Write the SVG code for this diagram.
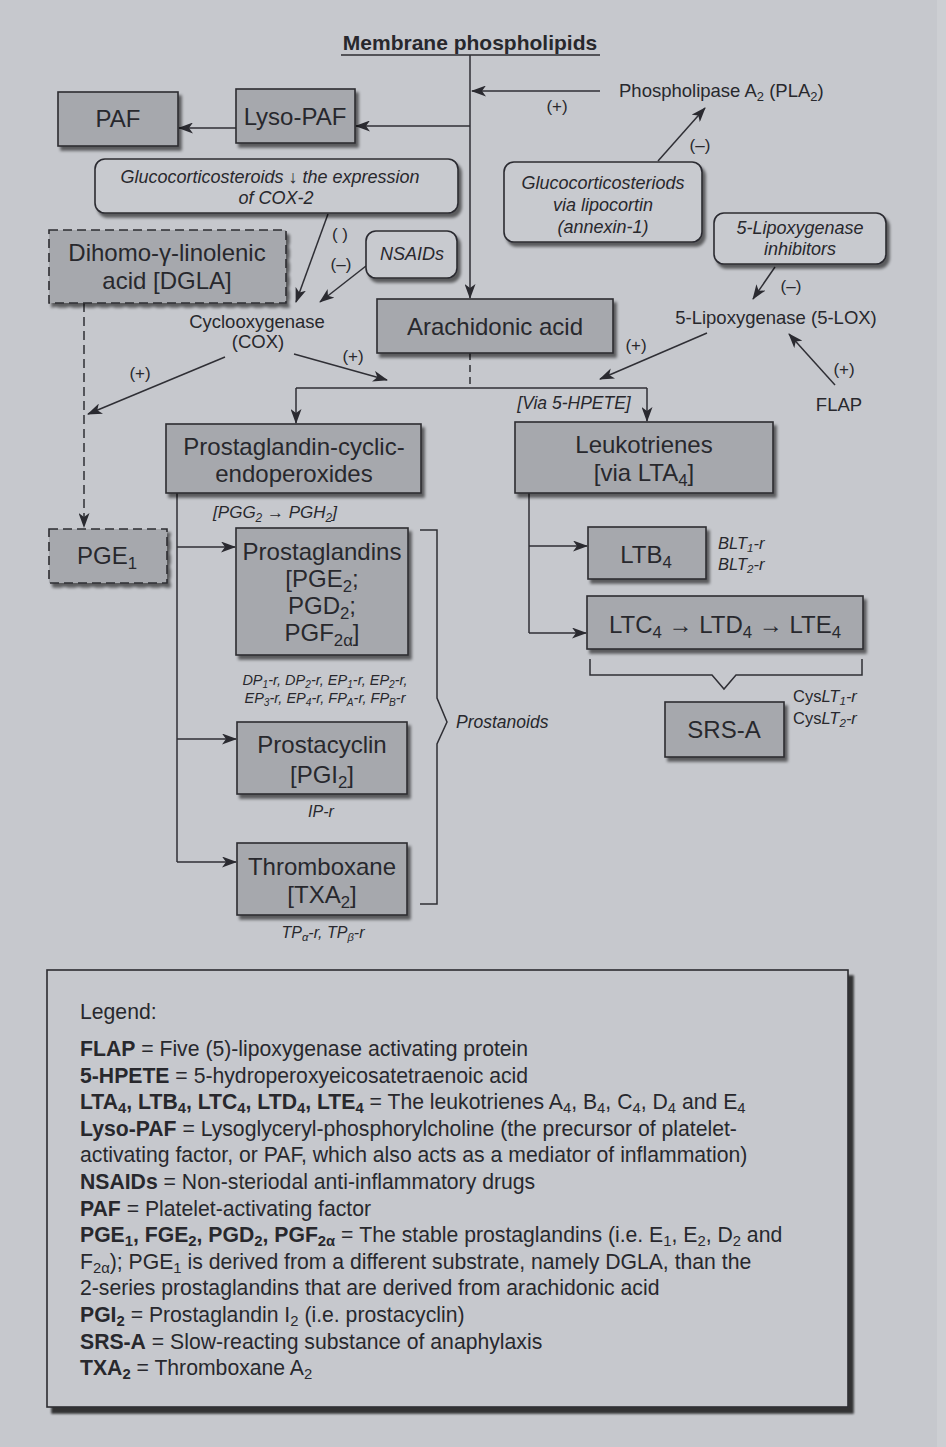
<svg xmlns="http://www.w3.org/2000/svg" width="946" height="1447" viewBox="0 0 946 1447">
<defs>
<style>
text{font-family:"Liberation Sans",Arial,Helvetica,sans-serif;fill:#28282d}
.n{font-size:24px;text-anchor:middle}
.s{font-size:18.5px}
.c{text-anchor:middle}
.i{font-style:italic}
.p{font-size:17px;text-anchor:middle}
.r{font-size:14.5px;font-style:italic;text-anchor:middle}
.rl{font-size:16.5px}
.sub{font-size:70%;baseline-shift:-0.3em}
.b{font-weight:bold}
.box{fill:#a6a8ad;stroke:#2c2c31;stroke-width:1.6}
.rbox{fill:#c8cacf;stroke:#2c2c31;stroke-width:1.6}
.dash{stroke-dasharray:9 5}
.ln{fill:none;stroke:#2f2f35;stroke-width:1.5}
.ar{marker-end:url(#ah)}
.lg{font-size:21.2px}
</style>
<marker id="ah" markerUnits="userSpaceOnUse" markerWidth="15" markerHeight="11" refX="14" refY="5.5" orient="auto">
<path d="M0,0 L15,5.5 L0,11 L4,5.5 Z" fill="#2a2a30"/>
</marker>
<filter id="sh" x="-10%" y="-10%" width="125%" height="135%">
<feGaussianBlur in="SourceAlpha" stdDeviation="1.4"/>
<feOffset dx="3" dy="4" result="o"/>
<feComponentTransfer><feFuncA type="linear" slope="0.55"/></feComponentTransfer>
<feMerge><feMergeNode/><feMergeNode in="SourceGraphic"/></feMerge>
</filter>
<filter id="sh2" x="-5%" y="-5%" width="110%" height="110%">
<feGaussianBlur in="SourceAlpha" stdDeviation="1.2"/>
<feOffset dx="5" dy="6"/>
<feComponentTransfer><feFuncA type="linear" slope="0.75"/></feComponentTransfer>
<feMerge><feMergeNode/><feMergeNode in="SourceGraphic"/></feMerge>
</filter>
</defs>

<!-- page background -->
<rect x="0" y="0" width="946" height="1447" fill="#c6c8cd"/>
<rect x="937" y="0" width="9" height="1447" fill="#cdcfd3"/>

<!-- title -->
<g id="title">
<text x="470" y="50" class="c b" font-size="21">Membrane phospholipids</text>
<line x1="341" y1="55" x2="600" y2="55" stroke="#2c2c31" stroke-width="1.5"/>
</g>

<!-- connectors -->
<g id="connectors">
<path class="ln ar" d="M470,55 V298"/>
<path class="ln ar" d="M600,91 H472"/>
<path class="ln ar" d="M470,126 H356"/>
<path class="ln ar" d="M236,128 H179"/>
<path class="ln ar" d="M328,214 L296,302"/>
<path class="ln ar" d="M366,266 L320,302"/>
<path class="ln ar" d="M658,161 L705,108"/>
<path class="ln ar" d="M775,267 L753,299"/>
<path class="ln ar dash" d="M84,303 V527"/>
<path class="ln ar" d="M225,357 L88,414"/>
<path class="ln ar" d="M294,354 L387,380"/>
<path class="ln ar" d="M707,333 L600,379"/>
<path class="ln ar" d="M835,385 L789,334"/>
<path class="ln" d="M470,353 V388" stroke-dasharray="7 5"/>
<path class="ln" d="M296,388 H647"/>
<path class="ln ar" d="M296,388 V423"/>
<path class="ln ar" d="M647,388 V421"/>
<path class="ln" d="M177,493 V862"/>
<path class="ln ar" d="M177,547 H235"/>
<path class="ln ar" d="M177,739 H236"/>
<path class="ln ar" d="M177,862 H236"/>
<path class="ln" d="M529,493 V633"/>
<path class="ln ar" d="M529,546 H587"/>
<path class="ln ar" d="M529,633 H586"/>
<path class="ln" d="M420,530 H437 V698 L447,722 L437,744 V904 H420"/>
<path class="ln" d="M590,659 V675 H712 L724,689 L736,675 H862 V659"/>
</g>

<!-- edge labels -->
<g id="edge-labels">
<text x="557" y="112" class="p">(+)</text>
<text x="700" y="151" class="p">(–)</text>
<text x="340" y="240" class="p">( )</text>
<text x="341" y="270" class="p">(–)</text>
<text x="791" y="292" class="p">(–)</text>
<text x="140" y="379" class="p">(+)</text>
<text x="353" y="362" class="p">(+)</text>
<text x="636" y="351" class="p">(+)</text>
<text x="844" y="375" class="p">(+)</text>
<text x="574" y="409" class="c i" font-size="17.5">[Via 5-HPETE]</text>
<text x="275" y="518" class="c i" font-size="17">[PGG<tspan class="sub">2</tspan> → PGH<tspan class="sub">2</tspan>]</text>
</g>

<!-- free-standing agents -->
<g id="pla2"><text x="619" y="97" class="s">Phospholipase A<tspan class="sub">2</tspan> (PLA<tspan class="sub">2</tspan>)</text></g>
<g id="cox"><text x="257" y="328" class="s c">Cyclooxygenase</text><text x="258" y="348" class="s c">(COX)</text></g>
<g id="lox"><text x="776" y="324" class="s c">5-Lipoxygenase (5-LOX)</text></g>
<g id="flap"><text x="839" y="411" class="s c">FLAP</text></g>

<!-- nodes -->
<g id="paf">
<rect x="58" y="92" width="120" height="54" class="box" filter="url(#sh)"/>
<text x="118" y="127" class="n">PAF</text>
</g>
<g id="lyso-paf">
<rect x="236" y="89" width="119" height="54" class="box" filter="url(#sh)"/>
<text x="295" y="125" class="n">Lyso-PAF</text>
</g>
<g id="gluco-cox2">
<rect x="95" y="159" width="363" height="54" rx="10" class="rbox" filter="url(#sh)"/>
<text x="270" y="183" class="c i" font-size="18">Glucocorticosteroids ↓ the expression</text>
<text x="276" y="204" class="c i" font-size="18">of COX-2</text>
</g>
<g id="nsaids">
<rect x="366" y="231" width="91" height="47" rx="10" class="rbox" filter="url(#sh)"/>
<text x="412" y="260" class="c i" font-size="18">NSAIDs</text>
</g>
<g id="dgla">
<rect x="49" y="230" width="237" height="73" class="box dash" filter="url(#sh)"/>
<text x="167" y="261" class="n">Dihomo-γ-linolenic</text>
<text x="167" y="289" class="n">acid [DGLA]</text>
</g>
<g id="gluco-lipocortin">
<rect x="504" y="162" width="198" height="80" rx="10" class="rbox" filter="url(#sh)"/>
<text x="603" y="189" class="c i" font-size="18">Glucocorticosteriods</text>
<text x="603" y="211" class="c i" font-size="18">via lipocortin</text>
<text x="603" y="233" class="c i" font-size="18">(annexin-1)</text>
</g>
<g id="lox-inhibitors">
<rect x="714" y="213" width="172" height="51" rx="10" class="rbox" filter="url(#sh)"/>
<text x="800" y="234" class="c i" font-size="18">5-Lipoxygenase</text>
<text x="800" y="255" class="c i" font-size="18">inhibitors</text>
</g>
<g id="arachidonic">
<rect x="377" y="299" width="236" height="54" class="box" filter="url(#sh)"/>
<text x="495" y="335" class="n">Arachidonic acid</text>
</g>
<g id="endoperoxides">
<rect x="166" y="424" width="255" height="69" class="box" filter="url(#sh)"/>
<text x="294" y="455" class="n">Prostaglandin-cyclic-</text>
<text x="294" y="482" class="n">endoperoxides</text>
</g>
<g id="leukotrienes">
<rect x="515" y="422" width="258" height="71" class="box" filter="url(#sh)"/>
<text x="644" y="453" class="n">Leukotrienes</text>
<text x="644" y="481" class="n">[via LTA<tspan class="sub">4</tspan>]</text>
</g>
<g id="pge1">
<rect x="49" y="529" width="118" height="54" class="box dash" filter="url(#sh)"/>
<text x="107" y="564" class="n">PGE<tspan class="sub">1</tspan></text>
</g>
<g id="prostaglandins">
<rect x="236" y="528" width="172" height="127" class="box" filter="url(#sh)"/>
<text x="322" y="560" class="n">Prostaglandins</text>
<text x="322" y="587" class="n">[PGE<tspan class="sub">2</tspan>;</text>
<text x="322" y="614" class="n">PGD<tspan class="sub">2</tspan>;</text>
<text x="322" y="641" class="n">PGF<tspan class="sub">2α</tspan>]</text>
<text x="325" y="685" class="r">DP<tspan class="sub">1</tspan>-r, DP<tspan class="sub">2</tspan>-r, EP<tspan class="sub">1</tspan>-r, EP<tspan class="sub">2</tspan>-r,</text>
<text x="325" y="703" class="r">EP<tspan class="sub">3</tspan>-r, EP<tspan class="sub">4</tspan>-r, FP<tspan class="sub">A</tspan>-r, FP<tspan class="sub">B</tspan>-r</text>
</g>
<g id="prostacyclin">
<rect x="237" y="722" width="170" height="72" class="box" filter="url(#sh)"/>
<text x="322" y="753" class="n">Prostacyclin</text>
<text x="322" y="783" class="n">[PGI<tspan class="sub">2</tspan>]</text>
<text x="321" y="817" class="c i" font-size="16">IP-r</text>
</g>
<g id="thromboxane">
<rect x="237" y="843" width="170" height="72" class="box" filter="url(#sh)"/>
<text x="322" y="875" class="n">Thromboxane</text>
<text x="322" y="903" class="n">[TXA<tspan class="sub">2</tspan>]</text>
<text x="323" y="938" class="c i" font-size="16">TP<tspan class="sub">α</tspan>-r, TP<tspan class="sub">β</tspan>-r</text>
</g>
<g id="prostanoids">
<text x="456" y="728" class="i" font-size="17.5">Prostanoids</text>
</g>
<g id="ltb4">
<rect x="588" y="527" width="118" height="52" class="box" filter="url(#sh)"/>
<text x="646" y="563" class="n">LTB<tspan class="sub">4</tspan></text>
<text x="718" y="549" class="i rl">BLT<tspan class="sub">1</tspan>-r</text>
<text x="718" y="570" class="i rl">BLT<tspan class="sub">2</tspan>-r</text>
</g>
<g id="ltc4">
<rect x="587" y="596" width="276" height="53" class="box" filter="url(#sh)"/>
<text x="725" y="633" class="n">LTC<tspan class="sub">4</tspan> → LTD<tspan class="sub">4</tspan> → LTE<tspan class="sub">4</tspan></text>
</g>
<g id="srs-a">
<rect x="665" y="702" width="119" height="55" class="box" filter="url(#sh)"/>
<text x="724" y="738" class="n">SRS-A</text>
<text x="793" y="702" class="rl">Cys<tspan class="i">LT<tspan class="sub">1</tspan>-r</tspan></text>
<text x="793" y="724" class="rl">Cys<tspan class="i">LT<tspan class="sub">2</tspan>-r</tspan></text>
</g>

<!-- legend -->
<g id="legend">
<rect x="47" y="970" width="801" height="437" fill="#c6c8cd" stroke="#2c2c31" stroke-width="1.6" filter="url(#sh2)"/>
<text x="80" y="1019" class="lg">Legend:</text>
<text x="80" y="1056" class="lg"><tspan class="b">FLAP</tspan> = Five (5)-lipoxygenase activating protein</text>
<text x="80" y="1082.6" class="lg"><tspan class="b">5-HPETE</tspan> = 5-hydroperoxyeicosatetraenoic acid</text>
<text x="80" y="1109.2" class="lg"><tspan class="b">LTA<tspan class="sub">4</tspan>, LTB<tspan class="sub">4</tspan>, LTC<tspan class="sub">4</tspan>, LTD<tspan class="sub">4</tspan>, LTE<tspan class="sub">4</tspan></tspan> = The leukotrienes A<tspan class="sub">4</tspan>, B<tspan class="sub">4</tspan>, C<tspan class="sub">4</tspan>, D<tspan class="sub">4</tspan> and E<tspan class="sub">4</tspan></text>
<text x="80" y="1135.8" class="lg"><tspan class="b">Lyso-PAF</tspan> = Lysoglyceryl-phosphorylcholine (the precursor of platelet-</text>
<text x="80" y="1162.4" class="lg">activating factor, or PAF, which also acts as a mediator of inflammation)</text>
<text x="80" y="1189" class="lg"><tspan class="b">NSAIDs</tspan> = Non-steriodal anti-inflammatory drugs</text>
<text x="80" y="1215.6" class="lg"><tspan class="b">PAF</tspan> = Platelet-activating factor</text>
<text x="80" y="1242.2" class="lg"><tspan class="b">PGE<tspan class="sub">1</tspan>, FGE<tspan class="sub">2</tspan>, PGD<tspan class="sub">2</tspan>, PGF<tspan class="sub">2α</tspan></tspan> = The stable prostaglandins (i.e. E<tspan class="sub">1</tspan>, E<tspan class="sub">2</tspan>, D<tspan class="sub">2</tspan> and</text>
<text x="80" y="1268.8" class="lg">F<tspan class="sub">2α</tspan>); PGE<tspan class="sub">1</tspan> is derived from a different substrate, namely DGLA, than the</text>
<text x="80" y="1295.4" class="lg">2-series prostaglandins that are derived from arachidonic acid</text>
<text x="80" y="1322" class="lg"><tspan class="b">PGI<tspan class="sub">2</tspan></tspan> = Prostaglandin I<tspan class="sub">2</tspan> (i.e. prostacyclin)</text>
<text x="80" y="1348.6" class="lg"><tspan class="b">SRS-A</tspan> = Slow-reacting substance of anaphylaxis</text>
<text x="80" y="1375.2" class="lg"><tspan class="b">TXA<tspan class="sub">2</tspan></tspan> = Thromboxane A<tspan class="sub">2</tspan></text>
</g>
</svg>
